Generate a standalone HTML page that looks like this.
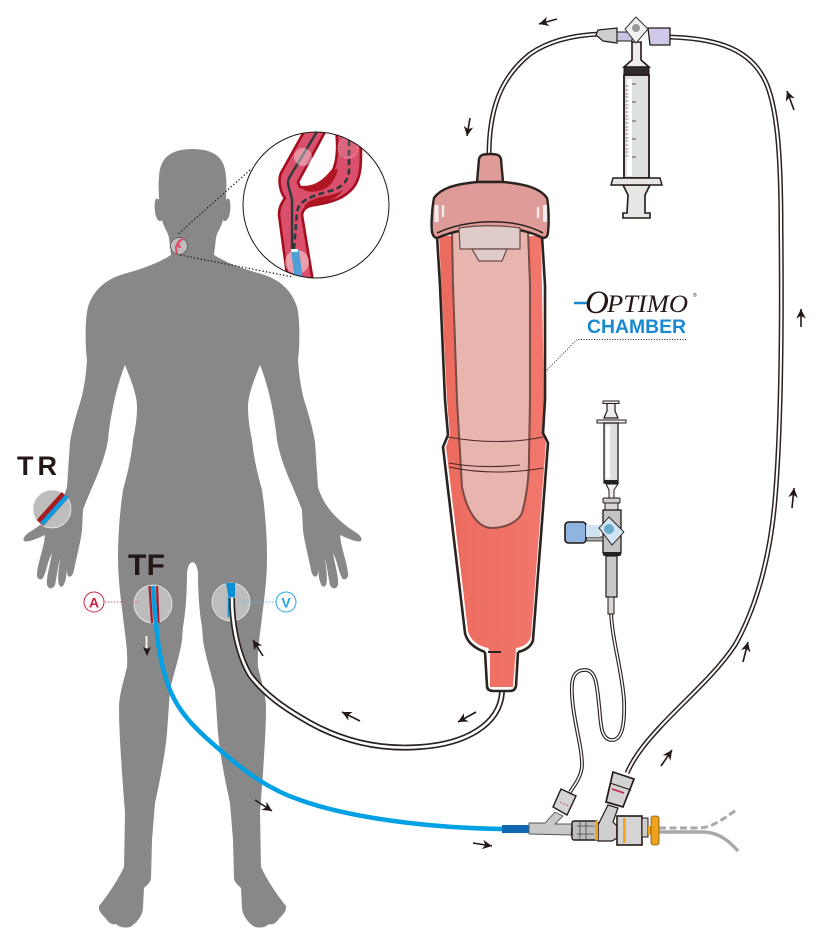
<!DOCTYPE html>
<html><head><meta charset="utf-8"><style>
html,body{margin:0;padding:0;background:#fff}
svg{display:block}
text{font-family:"Liberation Sans",sans-serif}
</style></head><body>
<svg width="829" height="939" viewBox="0 0 829 939" xmlns="http://www.w3.org/2000/svg">
<defs>
<marker id="a" viewBox="0 0 10 10" refX="10" refY="5" markerWidth="6" markerHeight="6" orient="auto"><path d="M0 0L10 5L0 10L3 5Z" fill="#231815"/></marker>
<clipPath id="lens"><circle cx="316" cy="205" r="73"/></clipPath>
<linearGradient id="ch" x1="0" y1="0" x2="1" y2="0"><stop offset="0" stop-color="#ec6a5e"/><stop offset="1" stop-color="#f2776c"/></linearGradient>
<path id="h" fill="#888" d="M194 149C172 149 160 156 159 177C158 185 159 192 159 200C155 195 154 204 155 212C156 220 160 223 162 220C164 228 168 232 169 238L171 255C160 262 145 268 127 273C112 277 95 285 88 307C85 318 85 345 87 360C86 375 84 390 80 403C76 415 72 430 70 442L67 487C62 505 48 520 33 530C26 534 22 538 24 541C28 543 38 538 45 535C44 548 38 562 37 573C36 579 41 581 43 578C47 570 48 560 52 553C50 565 46 578 47 585C49 590 53 589 55 585C57 575 58 567 60 558C59 568 57 578 59 585C62 589 64 586 66 578C67 570 67 563 68 557C67 565 66 572 68 576C71 578 73 575 74 570C77 555 81 540 82 530L83 510C90 490 104 465 108 440C110 420 115 390 125 365C131 380 137 395 137 407C137 420 135 430 133 440C131 460 127 475 123 490C120 510 118 535 118 557C118 580 121 600 123 617C125 635 128 650 127 667C124 680 119 695 119 707C119 730 121 755 122 773L125 813L124 867C118 880 108 895 99 906C98 912 104 916 107 920C110 924 113 925 116 924C120 928 126 928 130 927C137 923 143 915 143 907L144 888C147 885 151 882 151 878L152 840L155 803C160 780 165 755 167 733L170 690C174 672 180 655 182 640L183 627C186 610 187 590 187 573C188 565 190 562 193.5 562Z"/>
</defs>

<!-- body -->
<use href="#h"/>
<use href="#h" transform="translate(385 0) scale(-1 1)"/>

<!-- neck marker -->
<circle cx="179" cy="246" r="8.5" fill="#bdbdbd" stroke="#555" stroke-width=".8"/>
<path d="M177 254L176 248C176 245 178 243 180 240M181 247C178 247 177 245 180 241C182 239 183 239 184 238" stroke="#d94f6c" stroke-width="2.2" fill="none"/>
<path d="M250 170L177 235M180 255L293 277" stroke="#231815" stroke-width="1.3" stroke-dasharray="1.3 2.2" fill="none"/>

<!-- lens -->
<circle cx="316" cy="205" r="73" fill="#fff"/>
<g clip-path="url(#lens)" fill="none" stroke-linejoin="round">
<path d="M305 130L281 173C278 180 280 192 285 198C281 204 279 208 279 215L288 282L313 282L302 215C303 208 308 206 315 205C335 202 345 197 353 188C361 178 361 165 361 150L358 130L336 130C338 145 338 165 330 175C320 185 310 188 300 187L298 182L326 130Z" fill="#d94f6c" stroke="#a40f20" stroke-width="2.6"/>
<path d="M300 187C312 187 323 181 331 170L338 169C336 178 330 188 322 190C312 193 305 192 300 187Z" fill="#b01622"/>
<path d="M304 210C303 203 312 199 325 196C332 195 338 193 343 190C337 199 325 203 315 205C310 206 306 207 304 210Z" fill="#b01622"/>
<path d="M318 130L289 178C286 184 291 192 292 200L292 250" stroke="#2e3a3c" stroke-width="2.4"/>
<path d="M294 249L297 212C299 200 312 196 330 191C345 187 350 178 349 165L349 135" stroke="#2e3a3c" stroke-width="2.6" stroke-dasharray="6 3.5"/>
<circle cx="303" cy="157" r="9" fill="#fff" fill-opacity=".38"/>
<circle cx="348" cy="148" r="10" fill="#fff" fill-opacity=".12" stroke="#f2c3cc" stroke-width=".8" stroke-dasharray="1.5 1.5"/>
<circle cx="297" cy="262" r="12" fill="#fff" fill-opacity=".45"/>
<path d="M291 250L299 250L303 280L295 280Z" fill="#4d9fd6"/>
<rect x="291" y="249" width="7" height="3" fill="#dff"/>
</g>
<circle cx="316" cy="205" r="73" fill="none" stroke="#231815" stroke-width="1"/>

<!-- TR -->
<circle cx="52" cy="509" r="19" fill="#bdbdbd" stroke="#eee" stroke-width=".8"/>
<path d="M40 523L65 495" stroke="#a81c22" stroke-width="9"/>
<path d="M42 524L67 496" stroke="#0a9be0" stroke-width="4.5"/>
<text x="17" y="475" font-size="27" font-weight="700" fill="#231815" textLength="40" lengthAdjust="spacing">TR</text>

<!-- TF -->
<text x="128" y="575" font-size="30" font-weight="700" fill="#231815" textLength="37" lengthAdjust="spacing">TF</text>
<circle cx="153" cy="604" r="19" fill="#bdbdbd" stroke="#eee" stroke-width=".8"/>
<circle cx="231" cy="602" r="19" fill="#bdbdbd" stroke="#eee" stroke-width=".8"/>
<path d="M149.5 586L152 623M157 586L158.5 623" stroke="#a81c22" stroke-width="2.2" fill="none"/>
<path d="M153 586C154 600 155 615 156 623" stroke="#0a9be0" stroke-width="4.5" fill="none"/>
<path d="M156 623C158 650 163 672 170 690C180 715 200 733 220 750C245 772 270 790 300 800C350 818 430 828 503 829" stroke="#00a0e4" stroke-width="4.5" fill="none"/>
<path d="M226 583L235 583L235 597L228.5 597Z" fill="#0a8fd4"/>
<path d="M228.500 597V617" stroke="#0a8fd4" stroke-width="1.6"/>
<path d="M105 602H140" stroke="#d4697f" stroke-width="1" stroke-dasharray="1.5 1.5"/>
<path d="M239 602H276" stroke="#5bbde8" stroke-width="1" stroke-dasharray="1.5 1.5"/>
<circle cx="94" cy="602" r="10" fill="#fff" stroke="#c8203f" stroke-width="1"/>
<text x="94" y="607.500" font-size="14" font-weight="700" fill="#c8203f" text-anchor="middle">A</text>
<circle cx="286" cy="602" r="10" fill="#fff" stroke="#1fa5e6" stroke-width="1"/>
<text x="286" y="607.500" font-size="14" font-weight="700" fill="#1fa5e6" text-anchor="middle">V</text>

<!-- tubes -->
<g fill="none">
<path d="M232 598C232 625 238 655 250 675C265 695 285 708 300 717C340 742 380 750 420 747C465 744 500 725 502 692" stroke="#2b2320" stroke-width="6"/>
<path d="M232 598C232 625 238 655 250 675C265 695 285 708 300 717C340 742 380 750 420 747C465 744 500 725 502 692" stroke="#fff" stroke-width="2.6"/>
<path d="M489 156C489 110 500 78 530 54C550 40 575 35 600 34" stroke="#2b2320" stroke-width="5"/>
<path d="M489 156C489 110 500 78 530 54C550 40 575 35 600 34" stroke="#fff" stroke-width="2"/>
<path d="M668 37C710 38 745 46 762 75C778 100 781 160 781 230C782 330 781 430 775 500C770 560 755 610 735 645C715 675 685 700 660 727C648 740 635 755 627 773" stroke="#2b2320" stroke-width="5"/>
<path d="M668 37C710 38 745 46 762 75C778 100 781 160 781 230C782 330 781 430 775 500C770 560 755 610 735 645C715 675 685 700 660 727C648 740 635 755 627 773" stroke="#fff" stroke-width="2"/>
<path d="M611 612C612 640 622 670 624 700C625 725 622 740 612 740C600 740 601 722 599 705C597 685 596 670 585 670C573 670 571 680 572 695C573 720 582 745 582 765C582 775 575 785 570 792" stroke="#2b2320" stroke-width="3.8"/>
<path d="M611 612C612 640 622 670 624 700C625 725 622 740 612 740C600 740 601 722 599 705C597 685 596 670 585 670C573 670 571 680 572 695C573 720 582 745 582 765C582 775 575 785 570 792" stroke="#fff" stroke-width="1.5"/>
</g>

<!-- chamber -->
<path d="M438 236L445 400L448 435L443 447L465 633C467 642 474 648 485 652H487L488 690H515L518 652C527 650 532 645 533 640L548 443L543 433L545 400L542 236Z" fill="#fff"/>
<path d="M439 236L447 400L450 435L446 447L468 631C470 640 478 646 488 648L490 652V687H513L516 648C524 647 530 642 531 636L546 443L542 433L544 400L541 236Z" fill="url(#ch)"/>
<path d="M452 230L453 285L457 400L462 487C467 512 478 528 492 528C505 528 518 522 522 513C527 495 529 475 529 457L530 400L530 285L528 230Z" fill="#e7b4ae" stroke="#7a4a45" stroke-width="2"/>
<path d="M437 236L440 285L445 400L448 435L443 447L465 633C467 642 474 648 485 652M518 652C527 650 532 645 533 640L548 443L543 433L545 400L545 285L542 236M485 652L487 686C487 690 490 691 494 691H509C513 691 515 690 516 686L518 652" fill="none" stroke="#2b2320" stroke-width="2.6" stroke-linejoin="round"/>
<path d="M488 652H501" stroke="#2b2320" stroke-width="2"/>
<path d="M448 437C480 443 515 443 543 437M449 463C475 468 500 467 520 465M449 467C480 474 515 473 543 468" fill="none" stroke="#4a2825" stroke-width="1.1"/>
<path d="M477 182L479 159C480 155 483 154 490 154C497 154 500 155 501 159L503 182Z" fill="#de9b97" stroke="#2b2320" stroke-width="2.4"/>
<path d="M478 182C455 184 441 188 434 198C432 208 431 224 432 232C433 236 435 238 437 238C470 224 515 224 543 238C546 238 548 236 548 232C549 224 549 208 547 198C540 188 525 184 503 182Z" fill="#de9b97" stroke="#2b2320" stroke-width="2.4" stroke-linejoin="round"/>
<path d="M437 233C470 218 515 218 543 233" fill="none" stroke="#2b2320" stroke-width="1.6"/>
<path d="M459 228C480 225 500 225 520 228V249H460Z" fill="#e0cbcb" stroke="#6b4a48" stroke-width="1.2"/>
<path d="M472 249H507L502 261H479Z" fill="#e0cbcb" stroke="#6b4a48" stroke-width="1.2"/>
<path d="M443 205V217M538 207V218" stroke="#f1eded" stroke-width="2.4"/>
<path d="M436.500 205V222M545 205V222" stroke="#f1eded" stroke-width="4"/>

<!-- Optimo label -->
<path d="M574 303H590" stroke="#1a8ad0" stroke-width="2.5"/>
<text x="585" y="313" font-size="33" font-style="italic" style="font-family:'Liberation Serif'" fill="#231815">O</text>
<text x="607" y="312" font-size="25" font-style="italic" style="font-family:'Liberation Serif'" fill="#231815" textLength="81" lengthAdjust="spacingAndGlyphs">PTIMO</text>
<text x="693" y="297" font-size="5" fill="#231815">®</text>
<text x="587" y="333" font-size="19" font-weight="700" fill="#1a8ad0" textLength="99" lengthAdjust="spacingAndGlyphs">CHAMBER</text>
<path d="M686 339.500H577L545 372" fill="none" stroke="#231815" stroke-width=".9" stroke-dasharray="1 1.6"/>

<!-- top syringe -->
<path d="M574 34H600" stroke="#fff" stroke-width="0"/>
<path d="M598 30L617 28V43L603 41L596 35Z" fill="#cfcfcf" stroke="#231815" stroke-width="1.2"/>
<path d="M617 32H632V41H617Z" fill="#c9c3e2" stroke="#231815" stroke-width="1"/>
<path d="M648 28H670V45H650Z" fill="#cfc8e6" stroke="#231815" stroke-width="1.3"/>
<path d="M632 42H641V60L649 67H624L632 60Z" fill="#ececec" stroke="#231815" stroke-width="1.6"/>
<path d="M636 17L648 29L636 43L625 29Z" fill="#f2f2f2" stroke="#333" stroke-width="1"/>
<circle cx="636" cy="28" r="4" fill="#999"/>
<rect x="624" y="67" width="25" height="8" fill="#2e2b2a" stroke="#231815"/>
<rect x="624" y="75" width="25" height="103" fill="#dfe0e0" stroke="#231815" stroke-width="1.8"/>
<rect x="627" y="79" width="5" height="97" fill="#fff"/>
<path d="M625 86h3.500M625 90h3.500M625 94h3.500M625 97h3.500M625 101h3.500M625 105h3.500M625 108h3.500M625 112h3.500M625 116h3.500M625 119h3.500M625 123h3.500M625 127h3.500M625 130h3.500M625 134h3.500M625 138h3.500M625 141h3.500M625 145h3.500M625 149h3.500M625 152h3.500M625 156h3.500" stroke="#aaa" stroke-width="1.2"/>
<path d="M632 84h4M632 102h4M632 121h4M632 139h4M632 157h4" stroke="#555" stroke-width="1"/>
<path d="M623 185L628 195L627 213L623 213V218H650V213L645 213L645 195L650 185Z" fill="#e6e6e6" stroke="#231815" stroke-width="1.6"/>
<path d="M613 178H660L662 185H611Z" fill="#e6e6e6" stroke="#231815" stroke-width="1.4"/>

<!-- small syringe + stopcock -->
<path d="M607 403V411L604 418H618L615 411V403Z" fill="#eee" stroke="#231815" stroke-width="1.2"/>
<rect x="603" y="401" width="16" height="2.500" fill="#eee" stroke="#231815" stroke-width="1"/>
<path d="M597 420H626V423H597Z" fill="#eee" stroke="#231815" stroke-width="1"/>
<rect x="604" y="423" width="14" height="60" fill="#dfdfdf" stroke="#231815" stroke-width="1.3"/>
<rect x="606" y="425" width="4" height="54" fill="#fff"/>
<rect x="604" y="480" width="14" height="3.500" fill="#222"/>
<path d="M606 484H618L614 490V498H609V490Z" fill="#eee" stroke="#231815"/>
<rect x="603" y="498" width="17" height="5" rx="1" fill="#ccc" stroke="#231815"/>
<rect x="605" y="503" width="13" height="7" fill="#d8d8d8" stroke="#231815"/>
<rect x="603" y="510" width="18" height="43" fill="#c4c4c4" stroke="#231815" stroke-width="1.3"/>
<rect x="603" y="552" width="18" height="4" rx="1.500" fill="#222"/>
<rect x="606" y="556" width="11" height="41" fill="#c9c9c9" stroke="#231815" stroke-width="1.2"/>
<rect x="608" y="597" width="6" height="17" fill="#d8d8d8" stroke="#231815"/>
<path d="M586 537H603V541H586Z" fill="#aaa" stroke="#231815" stroke-width=".8"/>
<rect x="565" y="522" width="21" height="21" rx="3.500" fill="#8fb4e0" stroke="#231815" stroke-width="1.6"/>
<path d="M586 525H600V537H586Z" fill="#cfe3f2"/>
<path d="M609 517L624 532L612 545L599 528Z" fill="#cfe3f2" stroke="#231815" stroke-width=".9"/>
<circle cx="609" cy="529" r="5" fill="#6aaccc"/>

<!-- bottom sheath -->
<path d="M659 828H700C715 827 728 815 738 809" fill="none" stroke="#a8a8a8" stroke-width="3" stroke-dasharray="7 3.500"/>
<path d="M659 832H705C720 833 730 842 738 851" fill="none" stroke="#a8a8a8" stroke-width="3.400"/>
<rect x="502" y="825" width="27" height="8" fill="#0f67b1"/>
<path d="M529 823H545L555 812L563 816L555 824H572L571 835L529 834Z" fill="#c8c8c8" stroke="#555" stroke-width=".9"/>
<path d="M561 789L576 796L567 815L553 807Z" fill="#d4d4d4" stroke="#231815" stroke-width="1.4"/>
<path d="M560 802L569 806" stroke="#d94f6c" stroke-width="1" stroke-dasharray="2 1.500"/>
<path d="M598 825L608 805L618 808L613 822L617 826V838L612 841H598Z" fill="#cfcfcf" stroke="#231815" stroke-width="1.2"/>
<rect x="572" y="821" width="26" height="19" rx="2" fill="#bdbdbd" stroke="#231815" stroke-width="1.4"/>
<path d="M577 826H594M577 834H594M580 822V839M586 822V839" stroke="#444" stroke-width=".8"/>
<rect x="595" y="821" width="3" height="19" fill="#f0a21c"/>
<path d="M613 772L634 779L623 807L606 802Z" fill="#d2d2d2" stroke="#231815" stroke-width="1.7"/>
<path d="M610 783L631 790" stroke="#231815" stroke-width="1"/>
<path d="M612 789L624 793" stroke="#c8203f" stroke-width="1.6"/>
<rect x="617" y="816" width="25" height="29" fill="#d4d4d4" stroke="#231815" stroke-width="1.6"/>
<rect x="623" y="818" width="2.600" height="25" fill="#f0a21c"/>
<rect x="642" y="818" width="6" height="19" fill="#ccc" stroke="#231815"/>
<rect x="648" y="826" width="5" height="9" fill="#f0a21c"/>
<rect x="651" y="816" width="8" height="29" rx="2.500" fill="#f0a21c" stroke="#7a5210" stroke-width=".8"/>

<!-- arrows -->
<g stroke="#231815" stroke-width="1.6" fill="none">
<path d="M557 19L539 24" marker-end="url(#a)"/>
<path d="M470 118L467 136" marker-end="url(#a)"/>
<path d="M794 110L787 91" marker-end="url(#a)"/>
<path d="M801 327V309" marker-end="url(#a)"/>
<path d="M792 508L794 488" marker-end="url(#a)"/>
<path d="M743 662L748 642" marker-end="url(#a)"/>
<path d="M661 766L672 750" marker-end="url(#a)"/>
<path d="M473 843L492 846" marker-end="url(#a)"/>
<path d="M255 800L272 811" marker-end="url(#a)"/>
<path d="M476 712L458 722" marker-end="url(#a)"/>
<path d="M360 721L342 712" marker-end="url(#a)"/>
<path d="M263 656L253 640" marker-end="url(#a)"/>
</g>
<path d="M146.500 636V648" stroke="#fff" stroke-width="1.8"/>
<path d="M143 647L147 656L151 647L147 649Z" fill="#231815"/>
</svg>
</body></html>
